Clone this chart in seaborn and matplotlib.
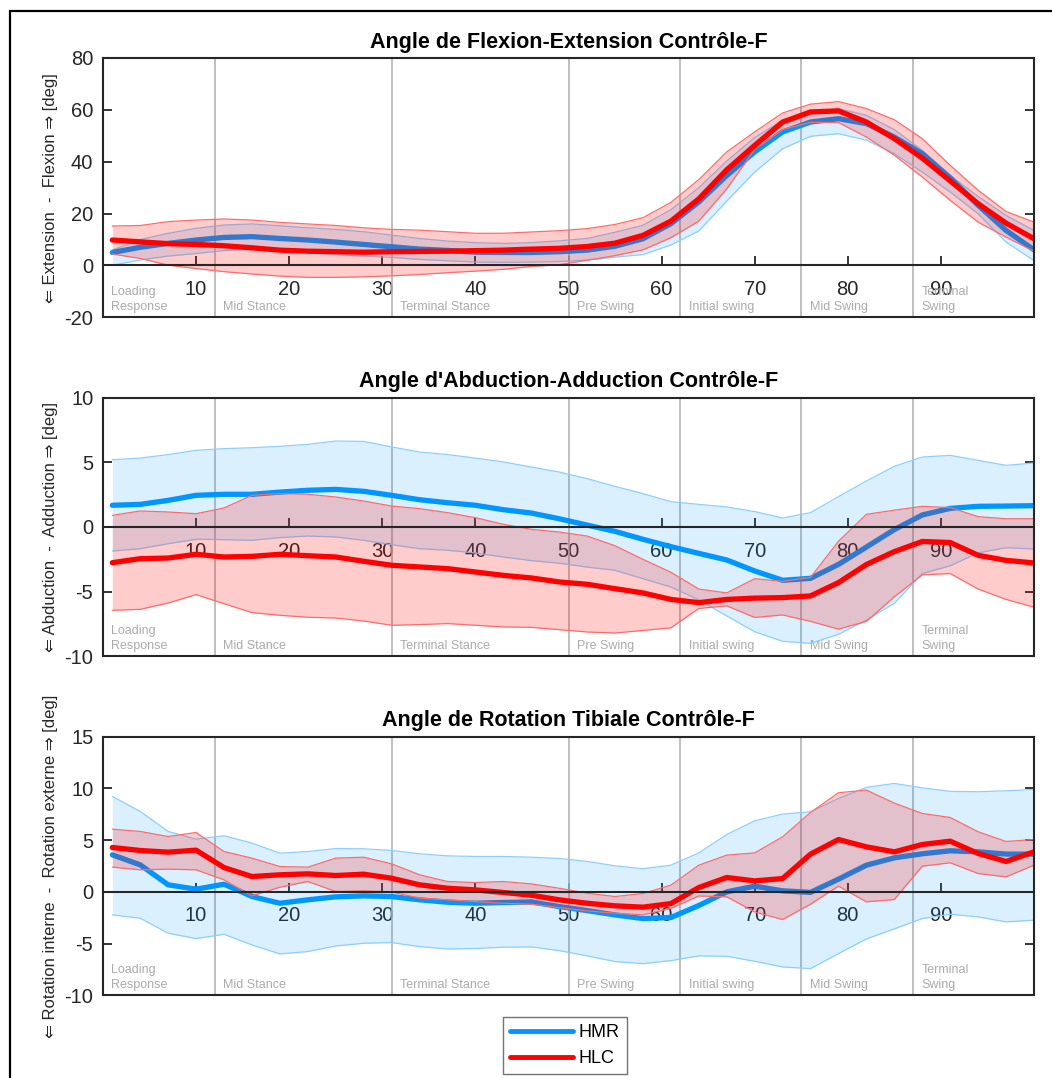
import numpy as np
import pandas as pd
import matplotlib
matplotlib.use("Agg")
import matplotlib.pyplot as plt
import seaborn as sns
from matplotlib.lines import Line2D
from matplotlib.patches import Rectangle
import matplotlib.transforms as mtransforms

# ---------------- data ----------------
pct = [1, 4, 7, 10, 13, 16, 19, 22, 25, 28, 31, 34, 37, 40, 43, 46, 49,
       52, 55, 58, 61, 64, 67, 70, 73, 76, 79, 82, 85, 88, 91, 94, 97, 100]

# Panel 1 : flexion / extension
fe_hmr_mean = [5.0, 7.0, 8.5, 9.8, 10.8, 11.1, 10.4, 9.8, 9.0, 8.1, 7.2, 6.3, 5.8, 5.1, 5.0, 5.0, 5.3,
               5.9, 7.4, 10.3, 16.1, 24.5, 34.7, 43.8, 51.5, 55.3, 56.6, 54.7, 49.5, 43.1, 33.8, 23.2, 13.5, 6.0]
fe_hmr_lo = [0.1, 2.1, 3.6, 4.6, 5.7, 6.2, 5.7, 4.9, 4.2, 3.6, 3.1, 2.3, 1.8, 1.3, 1.2, 1.3, 1.5,
             2.1, 3.2, 4.2, 7.9, 13.3, 24.8, 36.0, 45.0, 49.8, 50.8, 48.3, 43.1, 36.0, 28.3, 19.9, 9.0, 1.9]
fe_hmr_hi = [5.9, 10.0, 12.4, 14.3, 15.6, 16.0, 15.3, 14.5, 13.9, 13.0, 11.7, 10.4, 9.4, 8.8, 8.5, 8.8, 9.5,
             10.4, 12.8, 15.5, 21.5, 30.0, 40.3, 49.3, 56.0, 59.2, 60.5, 57.9, 52.4, 44.4, 34.7, 26.6, 19.3, 13.5]
fe_hlc_mean = [9.8, 9.1, 8.4, 8.1, 7.6, 6.8, 5.9, 5.5, 5.3, 5.1, 5.3, 5.4, 5.5, 5.7, 5.9, 6.3, 6.6,
               7.3, 8.6, 11.6, 17.1, 25.7, 36.9, 46.3, 55.3, 59.2, 59.6, 55.3, 48.9, 41.4, 32.6, 23.8, 16.3, 10.3]
fe_hlc_lo = [4.4, 2.7, 0.1, -1.2, -2.4, -3.3, -4.1, -4.6, -4.6, -4.4, -4.0, -3.5, -2.8, -2.2, -1.5, -0.4, 0.3,
             2.0, 3.8, 6.0, 10.7, 17.1, 29.5, 44.7, 52.4, 55.2, 55.1, 49.5, 42.5, 34.1, 25.1, 16.7, 10.9, 5.5]
fe_hlc_hi = [15.2, 15.4, 16.9, 17.5, 17.9, 17.5, 16.6, 16.0, 15.4, 14.5, 13.9, 13.6, 13.0, 12.4, 12.4, 12.9, 13.4,
             14.2, 15.8, 18.4, 24.3, 33.1, 43.8, 51.5, 58.8, 62.2, 63.2, 60.5, 56.2, 48.9, 38.6, 29.0, 20.8, 16.7]

# Panel 2 : abduction / adduction
aa_hmr_mean = [1.68, 1.75, 2.06, 2.45, 2.53, 2.53, 2.7, 2.84, 2.91, 2.76, 2.45, 2.11, 1.88, 1.68, 1.34, 1.08, 0.64,
               0.15, -0.34, -0.95, -1.52, -2.04, -2.55, -3.4, -4.12, -3.97, -2.89, -1.55, -0.2, 0.93, 1.44, 1.6, 1.62, 1.65]
aa_hmr_lo = [-1.86, -1.68, -1.29, -0.95, -0.98, -1.03, -0.82, -0.7, -0.77, -1.03, -1.37, -1.68, -1.8, -2.01, -2.32, -2.6, -2.8,
             -3.1, -3.35, -4.0, -4.64, -5.64, -6.88, -8.1, -8.84, -9.0, -8.3, -7.2, -5.9, -3.6, -3.0, -2.0, -1.6, -1.7]
aa_hmr_hi = [5.2, 5.33, 5.6, 5.93, 6.06, 6.13, 6.24, 6.39, 6.65, 6.62, 6.19, 5.8, 5.6, 5.33, 5.03, 4.64, 4.25,
             3.74, 3.14, 2.58, 1.96, 1.75, 1.55, 1.19, 0.7, 1.11, 2.35, 3.56, 4.69, 5.41, 5.54, 5.15, 4.77, 4.95]
aa_hlc_mean = [-2.76, -2.45, -2.4, -2.11, -2.32, -2.27, -2.11, -2.22, -2.32, -2.65, -2.96, -3.09, -3.22, -3.48, -3.74, -3.94, -4.25,
               -4.43, -4.77, -5.1, -5.6, -5.85, -5.6, -5.5, -5.46, -5.33, -4.3, -2.9, -1.9, -1.12, -1.2, -2.19, -2.58, -2.78]
aa_hlc_lo = [-6.44, -6.37, -5.88, -5.23, -5.93, -6.62, -6.83, -6.98, -7.04, -7.27, -7.6, -7.55, -7.47, -7.6, -7.73, -7.76, -7.94,
             -8.12, -8.2, -8.0, -7.8, -6.3, -6.1, -7.0, -6.8, -7.3, -7.9, -7.3, -5.4, -3.7, -3.6, -4.8, -5.6, -6.2]
aa_hlc_hi = [0.9, 1.24, 1.16, 1.03, 1.47, 2.45, 2.58, 2.53, 2.32, 2.01, 1.62, 1.42, 1.11, 0.72, 0.21, -0.18, -0.39,
             -0.7, -1.45, -2.5, -3.5, -4.8, -5.1, -4.0, -4.2, -3.9, -1.1, 0.98, 1.3, 1.6, 1.5, 0.8, 0.64, 0.64]

# Panel 3 : tibial rotation
rt_hmr_mean = [3.58, 2.61, 0.68, 0.26, 0.74, -0.45, -1.1, -0.77, -0.48, -0.39, -0.45, -0.77, -1.0, -1.1, -1.03, -0.97, -1.42,
               -1.81, -2.23, -2.58, -2.48, -1.32, 0.0, 0.55, 0.1, -0.05, 1.23, 2.58, 3.29, 3.68, 3.97, 3.87, 3.65, 3.65]
rt_hmr_lo = [-2.23, -2.55, -4.0, -4.52, -4.1, -5.13, -6.0, -5.77, -5.23, -4.97, -4.9, -5.29, -5.52, -5.48, -5.35, -5.32, -5.68,
             -6.19, -6.74, -6.94, -6.65, -6.19, -6.23, -6.71, -7.26, -7.42, -5.97, -4.55, -3.58, -2.58, -2.16, -2.42, -2.9, -2.74]
rt_hmr_hi = [9.23, 7.77, 5.84, 5.1, 5.42, 4.71, 3.74, 3.9, 4.19, 4.16, 4.0, 3.68, 3.48, 3.42, 3.42, 3.35, 3.23,
             2.94, 2.52, 2.23, 2.58, 3.77, 5.55, 6.87, 7.52, 7.74, 9.03, 10.1, 10.48, 10.06, 9.71, 9.68, 9.77, 9.9]
rt_hlc_mean = [4.29, 4.0, 3.84, 4.03, 2.35, 1.48, 1.65, 1.74, 1.58, 1.71, 1.32, 0.68, 0.35, 0.19, -0.06, -0.32, -0.77,
               -1.1, -1.35, -1.48, -1.13, 0.42, 1.39, 1.06, 1.29, 3.65, 5.06, 4.35, 3.87, 4.58, 4.9, 3.71, 2.94, 3.87]
rt_hlc_lo = [2.39, 2.13, 2.19, 2.13, 1.16, -0.39, 0.45, 1.0, 0.03, 0.1, 0.0, -0.61, -0.77, -0.94, -1.1, -1.19, -1.52,
             -1.84, -2.06, -2.23, -1.6, -0.4, -0.48, -1.94, -2.68, -1.19, 0.55, -0.97, -0.74, 2.48, 2.81, 1.77, 1.45, 2.58]
rt_hlc_hi = [6.06, 5.84, 5.35, 5.74, 3.9, 3.26, 2.45, 2.39, 3.26, 3.35, 2.71, 1.65, 1.0, 0.9, 1.0, 0.77, 0.35,
             -0.13, -0.45, -0.16, 0.65, 2.58, 3.55, 3.77, 5.32, 7.68, 9.58, 9.84, 8.58, 7.58, 7.19, 5.81, 4.87, 5.06]

titles = ["Angle de Flexion-Extension Contrôle-F",
          "Angle d'Abduction-Adduction Contrôle-F",
          "Angle de Rotation Tibiale Contrôle-F"]
ylabels = ["⇐ Extension  -  Flexion ⇒ [deg]",
           "⇐ Abduction  -  Adduction ⇒ [deg]",
           "⇐ Rotation interne  -  Rotation externe ⇒ [deg]"]
ylims = [(-20, 80), (-10, 10), (-10, 15)]
yticks = [[-20, 0, 20, 40, 60, 80], [-10, -5, 0, 5, 10], [-10, -5, 0, 5, 10, 15]]
xticks = [10, 20, 30, 40, 50, 60, 70, 80, 90]

phase_starts = [0, 12, 31, 50, 62, 75, 87]
phase_names = ["Loading\nResponse", "Mid Stance", "Terminal Stance", "Pre Swing",
               "Initial swing", "Mid Swing", "Terminal\nSwing"]
series_names = ["HMR", "HLC"]

panels = [
    (fe_hmr_mean, fe_hmr_lo, fe_hmr_hi, fe_hlc_mean, fe_hlc_lo, fe_hlc_hi),
    (aa_hmr_mean, aa_hmr_lo, aa_hmr_hi, aa_hlc_mean, aa_hlc_lo, aa_hlc_hi),
    (rt_hmr_mean, rt_hmr_lo, rt_hmr_hi, rt_hlc_mean, rt_hlc_lo, rt_hlc_hi),
]

# ---------------- style ----------------
sns.set_style("white")
plt.rcParams['font.family'] = ['Liberation Sans', 'DejaVu Sans']

BLUE = "#0096FF"
RED = "#FF0000"
AXC = "#262626"

W, H = 1052, 1078
fig = plt.figure(figsize=(W / 100, H / 100), dpi=100)

axes_px = [(58.0, 317.3), (397.7, 656.3), (736.7, 995.3)]
left_px, right_px = 103.0, 1034.0

for i, (top, bot) in enumerate(axes_px):
    ax = fig.add_axes([left_px / W, 1 - bot / H, (right_px - left_px) / W, (bot - top) / H])
    hm, hl, hh, rm, rl, rh = panels[i]

    # phase separators & labels
    for s, name in zip(phase_starts, phase_names):
        if s > 0:
            ax.axvline(s, color="#b4b4b4", lw=1.2, zorder=1)
        ax.text(s + 0.9, 0.018, name, transform=mtransforms.blended_transform_factory(ax.transData, ax.transAxes),
                ha="left", va="bottom", fontsize=9, color="#ababab", linespacing=1.3, zorder=1)

    # HMR
    ax.fill_between(pct, hl, hh, color=BLUE, alpha=0.14, lw=0, zorder=2)
    ax.plot(pct, hl, color="#8ccfff", lw=0.9, zorder=2)
    ax.plot(pct, hh, color="#8ccfff", lw=0.9, zorder=2)
    df_h = pd.DataFrame({"pct": pct, "val": hm})
    sns.lineplot(data=df_h, x="pct", y="val", ax=ax, color=BLUE, lw=3.8, zorder=3)

    # HLC
    ax.fill_between(pct, rl, rh, color=RED, alpha=0.2, lw=0, zorder=4)
    ax.plot(pct, rl, color="#ff6a6a", lw=0.9, zorder=4)
    ax.plot(pct, rh, color="#ff6a6a", lw=0.9, zorder=4)
    df_r = pd.DataFrame({"pct": pct, "val": rm})
    sns.lineplot(data=df_r, x="pct", y="val", ax=ax, color=RED, lw=3.8, zorder=5)

    ax.set_xlim(0, 100)
    ax.set_ylim(*ylims[i])
    ax.set_xlabel("")
    ax.set_ylabel("")
    ax.set_xticks(xticks)
    ax.set_xticklabels([str(t) for t in xticks])
    ax.set_yticks(yticks[i])
    ax.set_yticklabels([str(t) for t in yticks[i]])

    # axis at origin, box around
    ax.spines["bottom"].set_position(("data", 0))
    for sp in ["bottom", "left", "right", "top"]:
        ax.spines[sp].set_visible(True)
        ax.spines[sp].set_color(AXC)
        ax.spines[sp].set_linewidth(1.5)
        ax.spines[sp].set_zorder(6)
    ax.plot([0, 1], [0, 0], transform=ax.transAxes, color=AXC, lw=1.5, clip_on=False, zorder=6)

    ax.tick_params(axis="x", direction="in", length=6.5, width=1.3, colors=AXC,
                   labelsize=14.5, pad=10.5, top=False, bottom=True)
    ax.tick_params(axis="y", direction="in", length=6.5, width=1.3, colors=AXC,
                   labelsize=14.5, pad=7, left=True, right=True)
    for lab in ax.get_xticklabels() + ax.get_yticklabels():
        lab.set_color(AXC)

    ax.set_title(titles[i], fontsize=15.5, fontweight="bold", pad=7.5, color="black")
    ax.text(-0.056, 0.5, ylabels[i], transform=ax.transAxes, rotation=90,
            ha="center", va="center", fontsize=12, color=AXC)
    ax.grid(False)

# legend
handles = [Line2D([0], [0], color=BLUE, lw=3.5), Line2D([0], [0], color=RED, lw=3.5)]
leg = fig.legend(handles, series_names, loc="upper left", bbox_to_anchor=(503 / W, 1 - 1017 / H),
                 borderaxespad=0, fontsize=13, frameon=True, fancybox=False,
                 handlelength=3.5, handletextpad=0.3, labelspacing=0.5, borderpad=0.4)
leg.get_frame().set_edgecolor("#505050")
leg.get_frame().set_linewidth(1.0)
for t in leg.get_texts():
    t.set_color("black")

# outer frame
fig.add_artist(Rectangle((10 / W, -0.05), 1.2, (1 - 11 / H) + 0.05, transform=fig.transFigure,
                         fill=False, ec="black", lw=1.6))

fig.savefig("out.png", dpi=100)
